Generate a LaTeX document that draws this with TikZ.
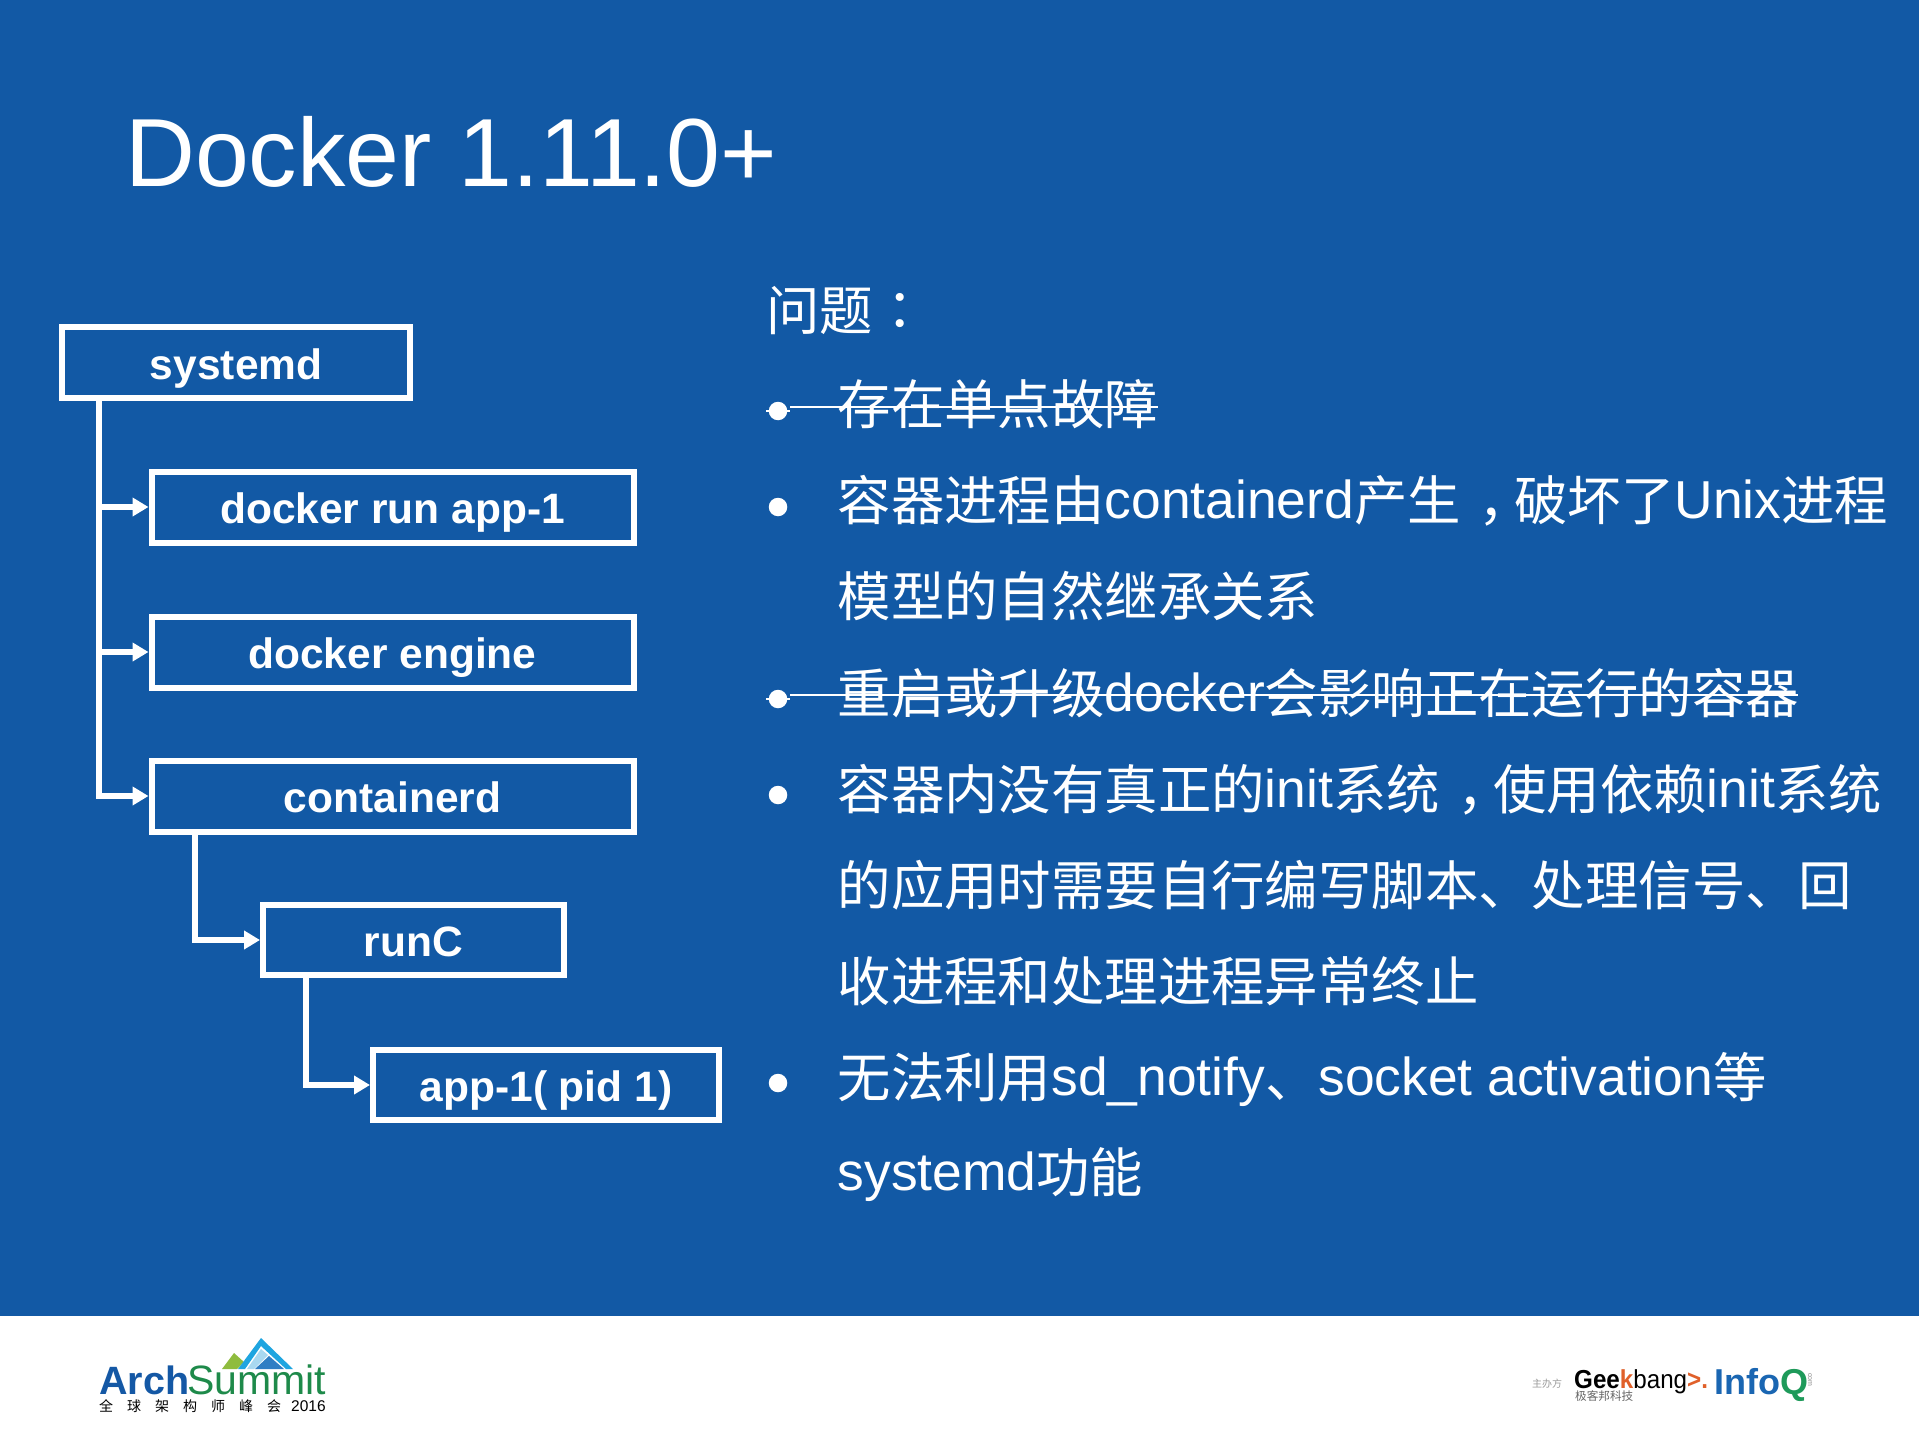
\documentclass[tikz,border=0pt]{standalone}
\usepackage{fontspec}
\usepackage{graphicx}
\usetikzlibrary{arrows.meta,calc}
\setmainfont{Liberation Sans}
\newfontfamily\cjk{Noto Sans CJK SC}
\newfontfamily\cjktc{Noto Sans CJK TC}
\newcommand{\C}[1]{\raisebox{-2.5pt}{\cjk #1}}
\newcommand{\T}[1]{\raisebox{-2.5pt}{\cjktc #1}}
\newcommand{\CM}{\raisebox{-2.5pt}{\cjk\makebox[1em][l]{\hspace{.33em}，}}}
\definecolor{slide}{HTML}{1259A5}
\definecolor{archblue}{HTML}{1458A5}
\definecolor{archgreen}{HTML}{1E8A4A}
\definecolor{mcyan}{HTML}{1FA5E0}
\definecolor{mblue}{HTML}{2F7EC4}
\definecolor{mlight}{HTML}{A9D8F0}
\definecolor{mgreen}{HTML}{8FBC3E}
\definecolor{gborange}{HTML}{E0602A}
\definecolor{iqblue}{HTML}{1A66B2}
\definecolor{iqgreen}{HTML}{1E9A5A}
\tikzset{
  box/.style={draw=white,line width=6pt,inner sep=0pt,text=white,
    font=\fontsize{42.5}{48}\selectfont\bfseries,text height=33pt,text depth=0pt,align=center},
  conn/.style={draw=white,line width=6pt,miter limit=10,-{Triangle[length=16pt,width=18pt]}},
  txt/.style={anchor=base west,inner sep=0pt,text=white,font=\fontsize{53.4}{60}\selectfont},
  bul/.style={circle,fill=white,inner sep=0pt,minimum size=18.5pt},
  strike/.style={draw=white,line width=2.4pt},
  logo/.style={anchor=base west,inner sep=0pt},
}
\begin{document}
\begin{tikzpicture}[x=1pt,y=-1pt]
\useasboundingbox (0,0) rectangle (1919,1439);
\fill[slide] (0,0) rectangle (1919,1316);
\fill[white] (0,1316) rectangle (1919,1439);
% title
\node[anchor=base west,inner sep=0pt,text=white,font=\fontsize{96.8}{104}\selectfont] (title) at (125,187) {Docker 1.11.0+};
% tree
\node[box,minimum width=347.5pt,minimum height=71pt] (systemd) at (236.2,362.5) {systemd};
\node[box,minimum width=482pt,minimum height=71pt] (run) at (392.5,507) {docker run app-1};
\node[box,minimum width=482pt,minimum height=71pt] (engine) at (392.5,652) {docker engine};
\node[box,minimum width=482pt,minimum height=71pt] (containerd) at (392.5,796) {containerd};
\node[box,minimum width=301pt,minimum height=70pt] (runc) at (413.5,940) {runC};
\node[box,minimum width=346pt,minimum height=70pt] (app) at (546,1085) {app-1( pid 1)};
\coordinate (tr) at ($(systemd.south west)+(39.5,0)$);
\coordinate (tc) at ($(containerd.south west)+(46,0)$);
\coordinate (tu) at ($(runc.south west)+(45.7,0)$);
\draw[conn] (tr) |- (run.west);
\draw[conn] (tr) |- (engine.west);
\draw[conn] (tr) |- (containerd.west);
\draw[conn] (tc) |- (runc.west);
\draw[conn] (tu) |- (app.west);
% text
\node[txt] (q) at (766,327.5) {\C{问题}\T{：}};
\node[txt] (l2) at (837.5,422) {\C{存在单点故障}};
\node[txt] (l3) at (837.5,518) {\C{容器进程由}containerd\C{产生}\CM\C{破坏了}Unix\C{进程}};
\node[txt] (l4) at (837.5,614) {\C{模型的自然继承关系}};
\node[txt] (l5) at (837.5,711) {\C{重启或升级}docker\C{会影响正在运行的容器}};
\node[txt] (l6) at (837.5,807) {\C{容器内没有真正的}init\C{系统}\CM\C{使用依赖}init\C{系统}};
\node[txt] (l7) at (837.5,903) {\C{的应用时需要自行编写脚本、处理信号、回}};
\node[txt] (l8) at (837.5,999) {\C{收进程和处理进程异常终止}};
\node[txt] (l9) at (837.5,1095) {\C{无法利用}sd\_notify\C{、}socket activation\C{等}};
\node[txt] (l10) at (837.5,1190) {systemd\C{功能}};
% bullets
\node[bul] (b2) at (778,411) {};
\node[bul] (b3) at (778,507) {};
\node[bul] (b5) at (778,699) {};
\node[bul] (b6) at (778,795) {};
\node[bul] (b9) at (778,1083) {};
% strike-through
\draw[strike] (766,411) -- (790,411);
\draw[strike] (790,407) -- (1158,407);
\draw[strike] (766,699) -- (790,699);
\draw[strike] (790,695) -- (1798,695);
% ArchSummit logo
\fill[mgreen] (222,1369) -- (234,1353) -- (244,1362) -- (237,1369) -- cycle;
\fill[mcyan] (238,1369) -- (261,1338) -- (293,1369) -- (286,1369) -- (261,1346) -- (245,1369) -- cycle;
\fill[mlight] (247,1369) -- (261,1349) -- (268,1355) -- (254,1369) -- cycle;
\fill[mblue] (255,1369) -- (269,1356) -- (284,1369) -- cycle;
\node[logo,text=archblue,font=\fontsize{39.5}{42}\selectfont\bfseries] (arch) at (99,1394) {Arch};
\node[logo,text=archgreen,font=\fontsize{41}{44}\selectfont] (summit) at (187,1394) {Summit};
\node[logo,text=black,font=\fontsize{14}{16}\selectfont] (archsub) at (99,1411) {{\cjk 全\hspace{14pt}球\hspace{14pt}架\hspace{14pt}构\hspace{14pt}师\hspace{14pt}峰\hspace{14pt}会}\hspace{10pt}{\fontsize{15.5}{16}\selectfont 2016}};
% Geekbang / InfoQ logos
\node[logo,text=black!40,font=\fontsize{10}{12}\selectfont] (host) at (1532,1387) {{\cjk 主办方}};
\node[logo,text=black,font=\fontsize{26}{28}\selectfont] (geek) at (1574,1388) {\scalebox{.93}[1]{\textbf{Gee}{\color{gborange}\textbf{k}}bang{\color{gborange}\textbf{>.}}}};
\node[logo,text=black!60,font=\fontsize{11.6}{13}\selectfont] (gbcn) at (1575,1400) {{\cjk 极客邦科技}};
\node[logo,text=iqblue,font=\fontsize{36}{38}\selectfont\bfseries] (infoq) at (1714,1394) {Info{\color{iqgreen}Q}};
\node[inner sep=0pt,text=black!45,font=\fontsize{7}{8}\selectfont,rotate=-90] (iqcom) at (1810,1380) {com};
\end{tikzpicture}
\end{document}
